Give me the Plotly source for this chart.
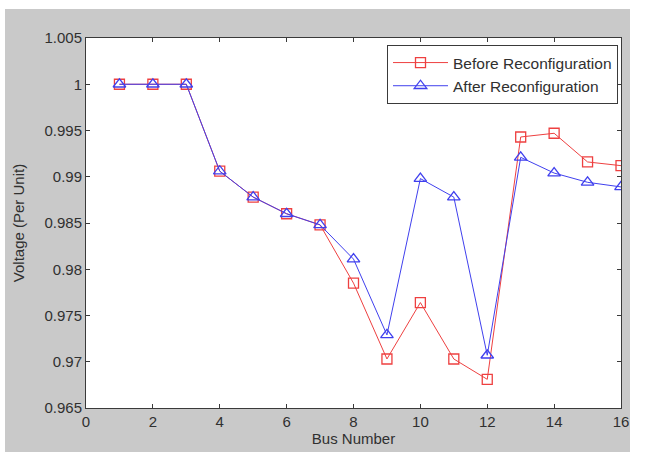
import plotly.graph_objects as go

# Bus voltage profile of a 16-bus distribution feeder
bus = list(range(1, 17))
v_before = [1.0, 1.0, 1.0, 0.9906, 0.9878, 0.9860, 0.9848, 0.9785,
            0.9703, 0.9764, 0.9703, 0.9681, 0.9943, 0.9947, 0.9916, 0.9912]
v_after = [1.0, 1.0, 1.0, 0.9906, 0.9878, 0.9860, 0.9848, 0.9811,
           0.9729, 0.9898, 0.9878, 0.9707, 0.9921, 0.9904, 0.9894, 0.9889]

x_ticks = [0, 2, 4, 6, 8, 10, 12, 14, 16]
y_ticks = [0.965, 0.97, 0.975, 0.98, 0.985, 0.99, 0.995, 1.0, 1.005]
y_tick_text = ["0.965", "0.97", "0.975", "0.98", "0.985", "0.99", "0.995", "1", "1.005"]

RED = "#ee4040"
BLUE = "#4040ee"
AXIS = "#3a3a3a"
TEXT = "#303030"
FONT = "Liberation Sans, Arial, sans-serif"
FS = 15

fig = go.Figure()
fig.add_trace(go.Scatter(
    x=bus, y=v_before, name="Before Reconfiguration", mode="lines+markers",
    line=dict(color=RED, width=1),
    marker=dict(symbol="square-open", size=10, color=RED, line=dict(width=1.3)),
))
fig.add_trace(go.Scatter(
    x=bus, y=v_after, name="After Reconfiguration", mode="lines+markers",
    line=dict(color=BLUE, width=1),
    marker=dict(symbol="triangle-up-open", size=11, color=BLUE, line=dict(width=1.3)),
))

# Grey figure frame with the white axes area on top of it
L, R, T, B = 86, 43, 38, 44
W, H = 664, 452
pw, ph = W - L - R, H - T - B
def px(x):
    return (x - L) / pw
def py(y):
    return (H - B - y) / ph

fig.add_shape(type="rect", xref="paper", yref="paper", layer="below",
              x0=px(5), x1=px(630), y0=py(452), y1=py(9),
              fillcolor="#c9c9c9", line=dict(width=0))
fig.add_shape(type="rect", xref="paper", yref="paper", layer="below",
              x0=0, x1=1, y0=0, y1=1,
              fillcolor="white", line=dict(width=0))

axis_common = dict(
    showgrid=False, zeroline=False, showline=True, linecolor=AXIS, linewidth=1,
    mirror="ticks", ticks="inside", ticklen=4, tickcolor=AXIS,
    tickfont=dict(family=FONT, size=FS, color=TEXT),
)

fig.update_layout(
    width=W, height=H,
    margin=dict(l=L, r=R, t=T, b=B),
    paper_bgcolor="white", plot_bgcolor="rgba(0,0,0,0)",
    font=dict(family=FONT, size=FS, color=TEXT),
    xaxis=dict(range=[0, 16], tickvals=x_ticks,
               title=dict(text="Bus Number", standoff=0, font=dict(size=FS)),
               **axis_common),
    yaxis=dict(range=[0.965, 1.005], tickvals=y_ticks, ticktext=y_tick_text,
               title=dict(text="Voltage (Per Unit)", standoff=16, font=dict(size=FS)),
               **axis_common),
    legend=dict(x=px(618), y=py(45), xanchor="right", yanchor="top",
                bgcolor="white", bordercolor=AXIS, borderwidth=1,
                font=dict(size=15.5, color=TEXT), tracegroupgap=0,
                itemwidth=55),
    showlegend=True,
)

fig.write_html("out.html")
